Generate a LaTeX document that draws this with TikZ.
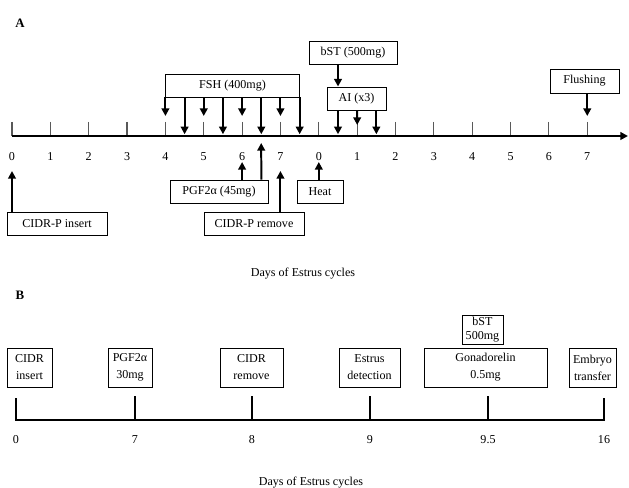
\documentclass[tikz,border=0pt]{standalone}
\usepackage{fontspec}
\setmainfont{Liberation Serif}
\usetikzlibrary{arrows.meta, positioning}

\begin{document}
\begin{tikzpicture}[x=0.03cm, y=-0.03cm, >={Triangle[width=6.5pt,length=6.5pt]},
    box/.style={draw, line width=0.8pt, inner sep=1pt, minimum height=0.69cm,
                font=\fontsize{10.3}{12}\selectfont, align=center},
    twobox/.style={box, minimum height=1.17cm, font=\fontsize{10.3}{14.5}\selectfont},
    shot/.style={->, line width=1.7pt},
    daytick/.style={gray!70!black, line width=1pt},
    daylabel/.style={font=\fontsize{10.3}{12}\selectfont},
    panel/.style={font=\fontsize{11}{13}\selectfont\bfseries}]
  \useasboundingbox (0,0) rectangle (629,488);

  % ---- panel A ----
  \node[panel] (pa) at (20,23) {A};

  \foreach \i in {0,...,15} {
    \coordinate (a\i) at (12+38.35*\i,136);
    \coordinate (h\i) at (12+38.35*\i+19.2,136);
    \coordinate (up\i) at (12+38.35*\i,116);
    \coordinate (dn\i) at (12+38.35*\i,162);
    \coordinate (lo\i) at (12+38.35*\i,171);
    \pgfmathtruncatemacro\lab{mod(\i,8)}
    \draw[daytick] (12+38.35*\i,122) -- (a\i);
    \node[daylabel] (l\i) at (12+38.35*\i,157) {\lab};
  }
  \coordinate (aend) at (628,136);
  \draw[->, line width=2.4pt] (a0) -- (aend);

  \node[box, minimum width=4.03cm] (fsh) at (232.5,85.5) {FSH (400mg)};
  \node[box, minimum width=2.64cm] (bst) at (353,52.5) {bST (500mg)};
  \node[box, minimum width=1.77cm] (ai) at (356.5,98.5) {AI (x3)};
  \node[box, minimum width=2.07cm, minimum height=0.72cm] (flush) at (584.5,81) {Flushing};
  \node[box, minimum width=3.0cm] (insP) at (57,223.5) {CIDR-P insert};
  \node[box, minimum width=2.94cm] (pgfA) at (219,191.5) {PGF2α (45mg)};
  \node[box, minimum width=3.0cm] (remP) at (254,223.5) {CIDR-P remove};
  \node[box, minimum width=1.38cm] (heat) at (320,191.5) {Heat};

  \foreach \d in {4,5,6,7} {
    \draw[shot] (fsh.south -| a\d) -- (up\d);
    \draw[shot, shorten >=1.5pt] (fsh.south -| h\d) -- (h\d);
  }
  \coordinate (mid9) at (357.2,125);
  \coordinate (pgfend) at (261.2,143);
  \draw[shot] (bst.south -| h8) -- (ai.north -| h8);
  \draw[shot, shorten >=1.5pt] (ai.south -| h8) -- (h8);
  \draw[shot] (ai.south -| a9) -- (mid9);
  \draw[shot, shorten >=1.5pt] (ai.south -| h9) -- (h9);
  \draw[shot] (flush.south -| a15) -- (up15);

  \draw[shot] (insP.north -| a0) -- (lo0);
  \draw[shot] (pgfA.north -| a6) -- (dn6);
  \draw[shot] (pgfA.north -| h6) -- (pgfend);
  \draw[shot] (remP.north -| a7) -- (lo7);
  \draw[shot] (heat.north -| a8) -- (dn8);

  \node[daylabel] (daysA) at (303,274) {Days of Estrus cycles};

  % ---- panel B ----
  \node[panel] (pb) at (20,295) {B};

  \foreach \n/\x/\lab in {0/16/0, 1/135/7, 2/252/8, 3/370/9, 4/488/9.5, 5/604/16} {
    \coordinate (b\n) at (\x,420);
    \node[daylabel] (m\n) at (\x,440) {\lab};
  }
  \foreach \n in {1,...,4}
    \draw[line width=0.9pt] (b\n) -- ++(0,-24);
  \draw[line width=2.1pt] (16,398) -- (b0) -- (b5) -- (604,398);

  \node[twobox, minimum width=1.35cm] (insB) at (29.5,367.5) {CIDR\\insert};
  \node[twobox, minimum width=1.32cm] (pgfB) at (130,367.5) {PGF2α\\30mg};
  \node[twobox, minimum width=1.89cm] (remB) at (251.5,367.5) {CIDR\\remove};
  \node[twobox, minimum width=1.83cm] (estr) at (369.5,367.5) {Estrus\\detection};
  \node[twobox, minimum width=3.69cm] (gona) at (485.5,367.5) {Gonadorelin\\0.5mg};
  \node[twobox, minimum width=1.41cm] (embr) at (592.5,367.5) {Embryo\\transfer};
  \node[box, minimum width=1.23cm, minimum height=0.87cm,
        font=\fontsize{10.3}{11.5}\selectfont] (bstB) at (482.5,329.5) {bST\\500mg};

  \node[daylabel] (daysB) at (311,483) {Days of Estrus cycles};
\end{tikzpicture}
\end{document}
